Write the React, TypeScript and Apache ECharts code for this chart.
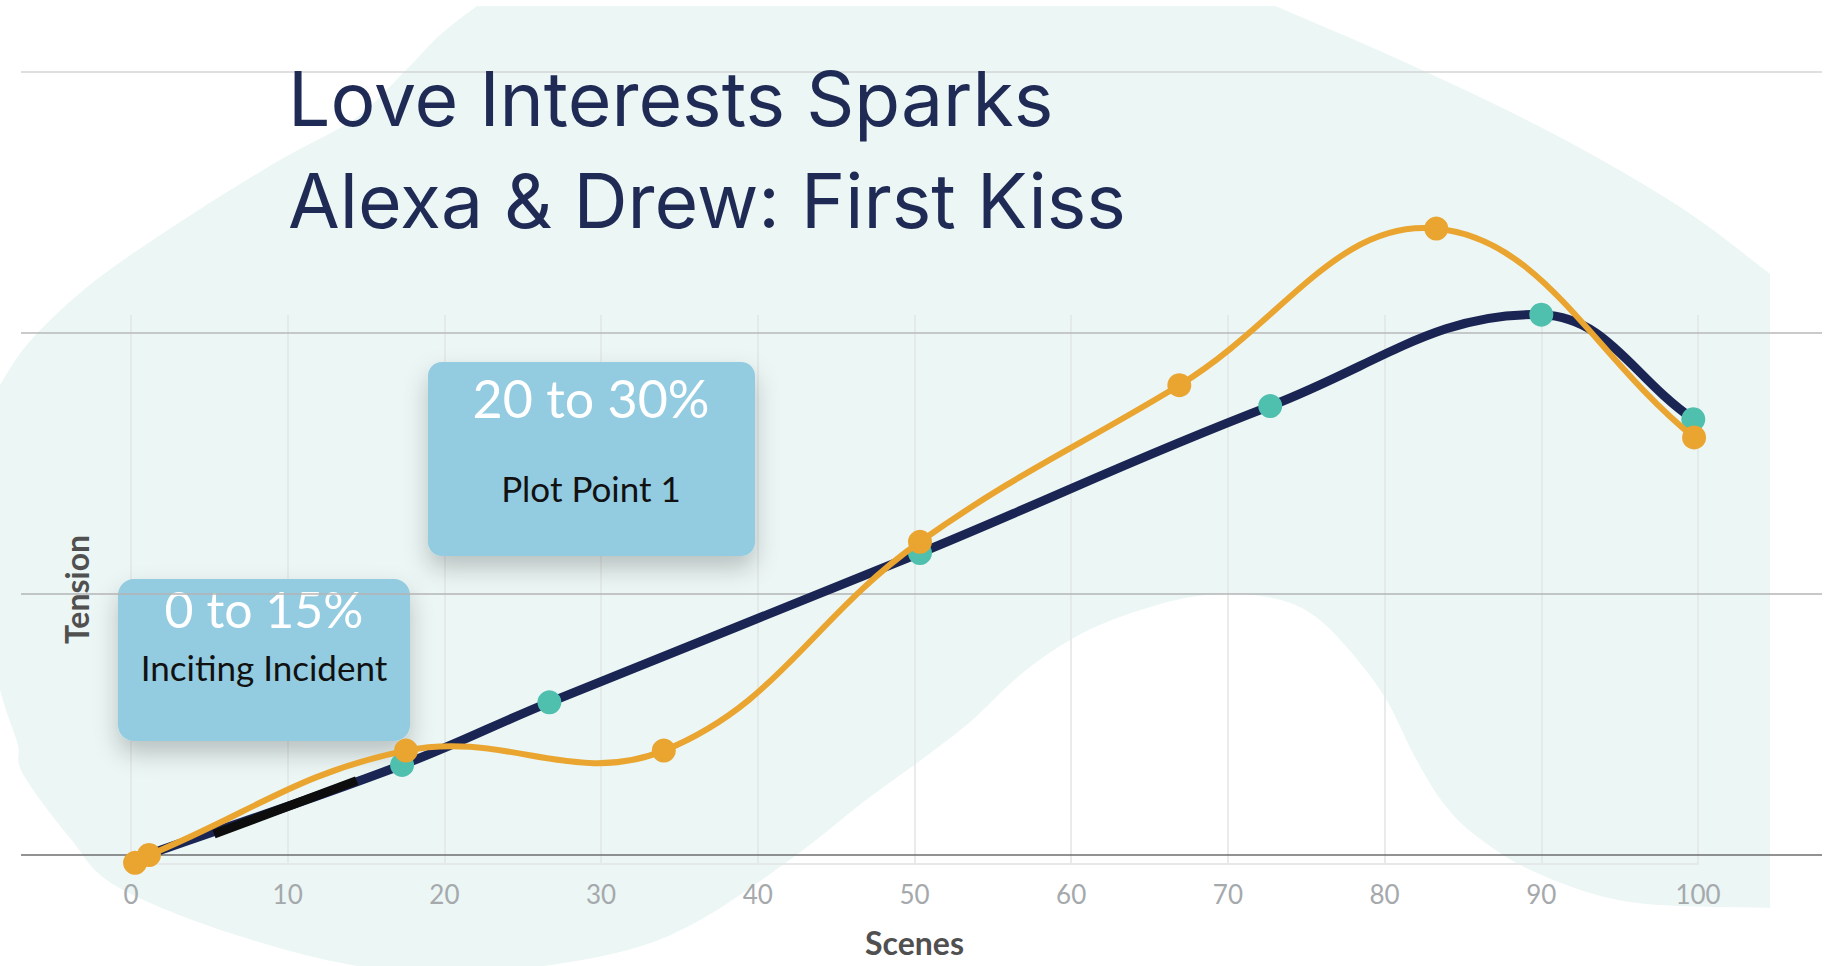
import React, { useEffect, useRef } from "react";
import * as echarts from "echarts";

// ---------- data ----------
const sceneMin = 0;
const sceneMax = 100;
const sceneStep = 10;
const tensionMax = 3;
const arcScenes = [1, 17.3, 26.7, 50.35, 72.7, 90.0, 99.7];
const arcTension = [0, 0.345, 0.585, 1.157, 1.72, 2.07, 1.67];
const sparkScenes = [0.26, 1.15, 17.55, 34.0, 50.35, 66.9, 83.3, 99.75];
const sparkTension = [-0.03, 0, 0.4, 0.4, 1.2, 1.8, 2.4, 1.6];
const strokeScenes = [5.3, 14.4];
const strokeTension = [0.08, 0.285];
const titleLines = ["Love Interests Sparks", "Alexa & Drew: First Kiss"];
const calloutRanges = ["20 to 30%", "0 to 15%"];
const calloutLabels = ["Plot Point 1", "Inciting Incident"];

// ---------- colours ----------
const NAVY = "#1b2553";
const TEAL = "#4fbfae";
const ORANGE = "#e9a52f";

// ---------- decoration geometry ----------
const calloutGeom = [
  { x: 428, y: 362, w: 327, h: 194, r: 14, cx: 591, ty1: 398, ty2: 488, s1: 52, s2: 35 },
  { x: 118, y: 579, w: 292, h: 162, r: 16, cx: 264, ty1: 609, ty2: 667, s1: 50, s2: 35 },
];

const topRight = [
  [1275, 6], [1400, 60], [1550, 132], [1680, 207], [1770, 274],
];
const bottomEdge = [
  [1770, 908], [1630, 902], [1537, 873], [1479, 838], [1444, 804], [1415, 757], [1386, 699],
  [1351, 652], [1316, 617], [1281, 600], [1235, 594], [1185, 598], [1120, 617], [1070, 640],
  [1020, 675], [970, 722], [925, 757], [862, 803], [795, 856], [700, 920], [620, 952], [500, 970],
  [370, 968], [233, 934], [116, 886], [70, 838], [23, 774], [18, 745], [7, 713], [0, 690],
];
const topLeft = [
  [0, 385], [31, 340], [96, 280], [191, 215], [280, 160], [356, 118], [406, 70], [440, 35], [477, 6],
];

function catmull(pts: number[][]): string {
  let d = "";
  for (let i = 0; i < pts.length - 1; i++) {
    const p0 = pts[i - 1] || pts[i];
    const p1 = pts[i];
    const p2 = pts[i + 1];
    const p3 = pts[i + 2] || p2;
    const c1x = p1[0] + (p2[0] - p0[0]) / 6;
    const c1y = p1[1] + (p2[1] - p0[1]) / 6;
    const c2x = p2[0] - (p3[0] - p1[0]) / 6;
    const c2y = p2[1] - (p3[1] - p1[1]) / 6;
    d += ` C ${c1x} ${c1y} ${c2x} ${c2y} ${p2[0]} ${p2[1]}`;
  }
  return d;
}

const blobD =
  "M 477 6 L 1275 6" +
  catmull(topRight) +
  " L 1770 908" +
  catmull(bottomEdge) +
  " L 0 385" +
  catmull(topLeft) +
  " Z";

let registered = false;
function registerBlob() {
  if (registered) return;
  echarts.graphic.registerShape("blob", echarts.graphic.extendPath(blobD, {}) as any);
  registered = true;
}

// Cubic spline (tension-based) through pixel points, like the original chart's curve.
function splinePath(pts: number[][], tension: number): string {
  const cps = pts.map((p, i) => {
    const p0 = pts[i - 1] || p;
    const p2 = pts[i + 1] || p;
    const d01 = Math.hypot(p[0] - p0[0], p[1] - p0[1]);
    const d12 = Math.hypot(p2[0] - p[0], p2[1] - p[1]);
    let s01 = d01 / (d01 + d12);
    let s12 = d12 / (d01 + d12);
    if (!isFinite(s01)) s01 = 0;
    if (!isFinite(s12)) s12 = 0;
    const fa = tension * s01;
    const fb = tension * s12;
    return {
      prev: [p[0] - fa * (p2[0] - p0[0]), p[1] - fa * (p2[1] - p0[1])],
      next: [p[0] + fb * (p2[0] - p0[0]), p[1] + fb * (p2[1] - p0[1])],
    };
  });
  let d = `M ${pts[0][0]} ${pts[0][1]}`;
  for (let i = 0; i < pts.length - 1; i++) {
    const c1 = cps[i].next;
    const c2 = cps[i + 1].prev;
    const p = pts[i + 1];
    d += ` C ${c1[0]} ${c1[1]} ${c2[0]} ${c2[1]} ${p[0]} ${p[1]}`;
  }
  return d;
}

function curveSeries(name: string, xs: number[], ys: number[], color: string, width: number, z: number) {
  return {
    type: "custom",
    name,
    coordinateSystem: "cartesian2d",
    xAxisIndex: 1,
    yAxisIndex: 1,
    z,
    clip: false,
    silent: true,
    data: xs.map((x, i) => [x, ys[i]]),
    encode: { x: 0, y: 1 },
    renderItem: (params: any, api: any) => {
      if (params.dataIndex !== 0) return { type: "group", children: [] };
      const pts = xs.map((x, i) => api.coord([x, ys[i]]));
      return {
        type: "path",
        shape: { pathData: splinePath(pts, 0.4) },
        style: { fill: "none", stroke: color, lineWidth: width, lineCap: "round", lineJoin: "round" },
      };
    },
  };
}

const LABEL_FONT = "Lato, 'Open Sans', sans-serif";

export default function App() {
  const ref = useRef<HTMLDivElement>(null);

  useEffect(() => {
    if (!ref.current) return;
    registerBlob();
    const chart = echarts.init(ref.current, undefined, { renderer: "svg" });

    const calloutGraphics: any[] = [];
    calloutGeom.forEach((g, i) => {
      calloutGraphics.push({
        type: "rect",
        z: 1,
        silent: true,
        shape: { x: g.x, y: g.y, width: g.w, height: g.h, r: g.r },
        style: {
          fill: "#93cbe0",
          shadowBlur: 24,
          shadowOffsetY: 12,
          shadowColor: "rgba(0,0,0,0.22)",
        },
      });
      calloutGraphics.push({
        type: "text",
        z: 1,
        x: g.cx,
        y: g.ty1,
        style: {
          text: calloutRanges[i],
          fill: "#ffffff",
          fontSize: g.s1,
          fontWeight: 400,
          fontFamily: LABEL_FONT,
          align: "center",
          verticalAlign: "middle",
        },
      });
      calloutGraphics.push({
        type: "text",
        z: 1,
        x: g.cx,
        y: g.ty2,
        style: {
          text: calloutLabels[i],
          fill: "#111111",
          fontSize: g.s2,
          fontWeight: 400,
          fontFamily: LABEL_FONT,
          align: "center",
          verticalAlign: "middle",
        },
      });
    });

    const option: any = {
      animation: false,
      backgroundColor: "#ffffff",
      title: {
        text: titleLines.join("\n"),
        left: 288,
        top: 47,
        padding: 0,
        textStyle: {
          color: "#1f2a55",
          fontSize: 75,
          fontWeight: 400,
          fontFamily: "Inter, sans-serif",
          lineHeight: 102,
        },
      },
      grid: [
        { left: 131, right: 128, top: 315, bottom: 102 },
        { left: 131, right: 128, top: 72, bottom: 111 },
        { left: 21, right: 4, top: 72, bottom: 111 },
      ],
      xAxis: [
        {
          gridIndex: 0,
          type: "value",
          min: sceneMin,
          max: sceneMax,
          interval: sceneStep,
          z: 0,
          axisLine: { show: true, lineStyle: { color: "#e6e7e8", width: 2 } },
          axisTick: { show: false },
          axisLabel: { color: "#a5a9ac", fontSize: 26, fontWeight: 400, margin: 17, fontFamily: LABEL_FONT },
          splitLine: { show: true, lineStyle: { color: "#e2e4e5", width: 1.5 } },
          name: "Scenes",
          nameLocation: "middle",
          nameGap: 62,
          nameTextStyle: {
            color: "#505050",
            fontSize: 32,
            fontWeight: "bold",
            fontFamily: "Lato, sans-serif",
          },
        },
        { gridIndex: 1, type: "value", min: sceneMin, max: sceneMax, show: false },
        { gridIndex: 2, type: "value", min: 0, max: 1, show: false },
      ],
      yAxis: [
        {
          gridIndex: 0,
          type: "value",
          min: 0,
          max: 1,
          axisLine: { show: false },
          axisTick: { show: false },
          axisLabel: { show: false },
          splitLine: { show: false },
          name: "Tension",
          nameLocation: "middle",
          nameRotate: 90,
          nameGap: 39,
          nameTextStyle: {
            color: "#505050",
            fontSize: 32,
            fontWeight: "bold",
            fontFamily: "Lato, sans-serif",
          },
        },
        { gridIndex: 1, type: "value", min: 0, max: tensionMax, show: false },
        {
          gridIndex: 2,
          type: "value",
          min: 0,
          max: tensionMax,
          interval: 1,
          z: 2,
          axisLine: { show: false },
          axisTick: { show: false },
          axisLabel: { show: false },
          splitLine: {
            show: true,
            lineStyle: { color: ["#6e6e6e", "#b4b4b4", "#b8b8b8", "#d4d4d4"], width: 1.5 },
          },
        },
      ],
      graphic: [
        { type: "blob", x: 0, y: 0, z: -10, silent: true, style: { fill: "#ebf6f5" } },
        ...calloutGraphics,
      ],
      series: [
        curveSeries("Story arc", arcScenes, arcTension, NAVY, 9, 3),
        {
          type: "scatter",
          name: "Story arc beats",
          xAxisIndex: 1,
          yAxisIndex: 1,
          z: 4,
          clip: false,
          symbol: "circle",
          symbolSize: 24,
          data: arcScenes.slice(1).map((x, i) => [x, arcTension[i + 1]]),
          itemStyle: { color: TEAL, opacity: 1 },
        },
        {
          type: "line",
          name: "Stroke",
          xAxisIndex: 1,
          yAxisIndex: 1,
          z: 5,
          clip: false,
          symbol: "none",
          data: strokeScenes.map((x, i) => [x, strokeTension[i]]),
          lineStyle: { color: "#0d0d0d", width: 9 },
        },
        curveSeries("Love interest sparks", sparkScenes, sparkTension, ORANGE, 6, 6),
        {
          type: "scatter",
          name: "Love interest beats",
          xAxisIndex: 1,
          yAxisIndex: 1,
          z: 7,
          clip: false,
          symbol: "circle",
          symbolSize: 24,
          data: sparkScenes.map((x, i) => [x, sparkTension[i]]),
          itemStyle: { color: ORANGE, opacity: 1 },
        },
      ],
    };

    chart.setOption(option);
    return () => chart.dispose();
  }, []);

  return (
    <div
      ref={ref}
      style={{ position: "fixed", left: 0, top: 0, width: 1826, height: 966 }}
    />
  );
}
